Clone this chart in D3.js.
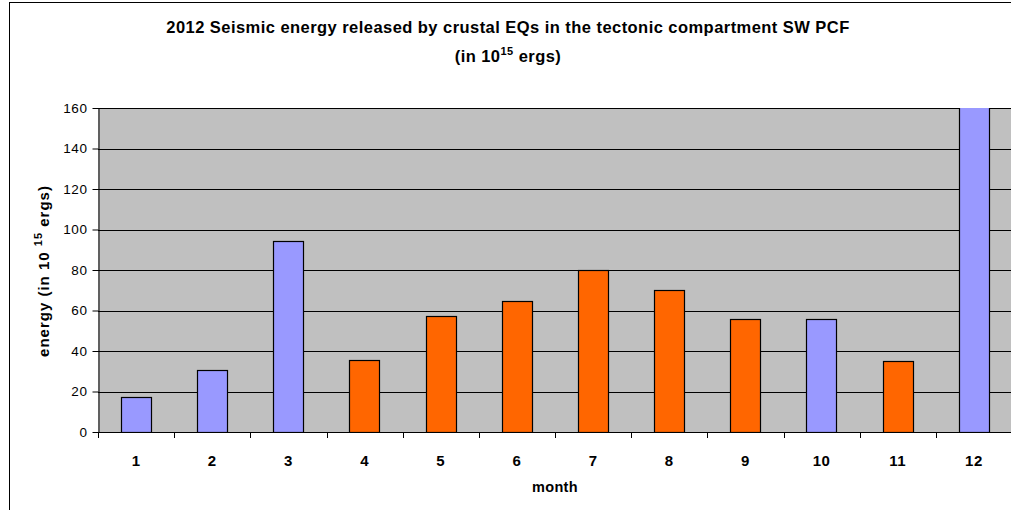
<!DOCTYPE html>
<html>
<head>
<meta charset="utf-8">
<script src="https://cdn.jsdelivr.net/npm/d3@7"></script>
<style>
  body { margin: 0; background: #fff; }
  text { font-family: "Liberation Sans", Arial, sans-serif; }
</style>
</head>
<body>
<div id="chart"></div>
<script>
var width = 1011;
var height = 510;

// data
var months = ["1", "2", "3", "4", "5", "6", "7", "8", "9", "10", "11", "12"];
var energy = [17.4, 30.8, 94.2, 35.7, 57.3, 64.7, 80, 70.1, 55.9, 55.9, 35.2, 170];
var barColors = ["#9999FF", "#9999FF", "#9999FF", "#FF6600", "#FF6600", "#FF6600",
                 "#FF6600", "#FF6600", "#FF6600", "#9999FF", "#FF6600", "#9999FF"];
var yTicks = [0, 20, 40, 60, 80, 100, 120, 140, 160];

var plot = {left: 98, right: 1012, top: 108, bottom: 432};

var svg = d3.select("#chart").append("svg")
  .attr("width", width)
  .attr("height", height);

// outer frame
svg.append("rect")
  .attr("x", 9.5).attr("y", 2.5)
  .attr("width", 1010).attr("height", 520)
  .attr("fill", "#fff")
  .attr("stroke", "#000");

var xScale = d3.scaleBand()
  .domain(months)
  .range([plot.left, plot.right])
  .paddingInner(0.6)
  .paddingOuter(0.3);

var xTicksScale = d3.scaleBand()
  .domain(months)
  .range([plot.left, plot.right]);

var yScale = d3.scaleLinear()
  .domain([0, 160])
  .range([plot.bottom, plot.top]);

svg.append("defs").append("clipPath").attr("id", "clip")
  .append("rect")
  .attr("x", plot.left).attr("y", plot.top)
  .attr("width", plot.right - plot.left)
  .attr("height", plot.bottom - plot.top);

// plot background
svg.append("rect")
  .attr("x", plot.left).attr("y", plot.top)
  .attr("width", plot.right - plot.left)
  .attr("height", plot.bottom - plot.top)
  .attr("fill", "#C0C0C0");

// gridlines
svg.append("g")
  .selectAll("line")
  .data(yTicks.slice(1))
  .enter().append("line")
    .attr("x1", plot.left).attr("x2", plot.right)
    .attr("y1", function(d) { return Math.round(yScale(d)) + 0.5; })
    .attr("y2", function(d) { return Math.round(yScale(d)) + 0.5; })
    .attr("stroke", "#000")
    .attr("stroke-width", 1.2);

// bars
svg.append("g")
  .attr("clip-path", "url(#clip)")
  .selectAll("rect")
  .data(energy)
  .enter().append("rect")
    .attr("x", function(d, i) { return Math.round(xScale(months[i])) + 0.5; })
    .attr("y", function(d) { return Math.round(yScale(d)) + 0.5; })
    .attr("width", Math.round(xScale.bandwidth()))
    .attr("height", function(d) { return Math.round(plot.bottom - yScale(d)); })
    .attr("fill", function(d, i) { return barColors[i]; })
    .attr("stroke", "#000")
    .attr("stroke-width", 1.2);

// y axis
var yAxis = d3.axisLeft(yScale)
  .tickValues(yTicks)
  .tickSize(6)
  .tickSizeOuter(0);

var gy = svg.append("g")
  .attr("transform", "translate(" + (plot.left + 0.5) + ",0)")
  .call(yAxis);
gy.selectAll("text")
  .attr("font-size", "13.5px")
  .attr("letter-spacing", "0.6px")
  .attr("font-family", "Liberation Sans, Arial, sans-serif")
  .attr("fill", "#000")
  .attr("x", -11);
gy.select(".domain").attr("stroke", "#000");

// x axis line and ticks at band boundaries
svg.append("line")
  .attr("x1", plot.left).attr("x2", plot.right)
  .attr("y1", plot.bottom + 0.5).attr("y2", plot.bottom + 0.5)
  .attr("stroke", "#000");

svg.append("g")
  .selectAll("line")
  .data(months)
  .enter().append("line")
    .attr("x1", function(d) { return Math.round(xTicksScale(d)) + 0.5; })
    .attr("x2", function(d) { return Math.round(xTicksScale(d)) + 0.5; })
    .attr("y1", plot.bottom)
    .attr("y2", plot.bottom + 6)
    .attr("stroke", "#000");

svg.append("g")
  .selectAll("text")
  .data(months)
  .enter().append("text")
    .attr("x", function(d) { return xTicksScale(d) + xTicksScale.bandwidth() / 2; })
    .attr("y", 466)
    .attr("text-anchor", "middle")
    .attr("font-size", "15px")
    .attr("letter-spacing", "0.5px")
    .attr("font-weight", "bold")
    .text(function(d) { return d; });

// axis titles
svg.append("text")
  .attr("x", 555)
  .attr("y", 492)
  .attr("text-anchor", "middle")
  .attr("font-size", "14.5px")
  .attr("letter-spacing", "0.3px")
  .attr("font-weight", "bold")
  .text("month");

var yl = svg.append("text")
  .attr("transform", "translate(49,271) rotate(-90)")
  .attr("text-anchor", "middle")
  .attr("font-size", "15px")
  .attr("letter-spacing", "1px")
  .attr("font-weight", "bold");
yl.append("tspan").text("energy (in 10 ");
yl.append("tspan").attr("dy", -7).attr("font-size", "11px").text("15");
yl.append("tspan").attr("dy", 7).text(" ergs)");

// chart title
svg.append("text")
  .attr("x", 508)
  .attr("y", 33)
  .attr("text-anchor", "middle")
  .attr("font-size", "16.5px")
  .attr("letter-spacing", "0.45px")
  .attr("font-weight", "bold")
  .text("2012 Seismic energy released by crustal EQs in the tectonic compartment SW PCF");

var t2 = svg.append("text")
  .attr("x", 508)
  .attr("y", 62)
  .attr("text-anchor", "middle")
  .attr("font-size", "16.5px")
  .attr("letter-spacing", "0.45px")
  .attr("font-weight", "bold");
t2.append("tspan").text("(in 10");
t2.append("tspan").attr("dy", -7).attr("font-size", "11px").text("15");
t2.append("tspan").attr("dy", 7).text(" ergs)");
</script>
</body>
</html>
